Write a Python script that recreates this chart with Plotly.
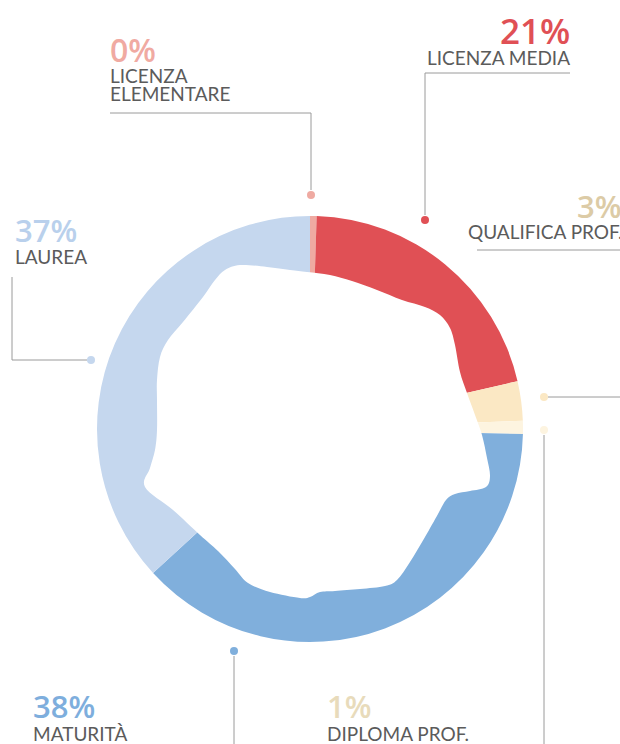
import plotly.graph_objects as go

# ---- data ----
categories = ["LICENZA ELEMENTARE", "LICENZA MEDIA", "QUALIFICA PROF.",
              "DIPLOMA PROF.", "MATURITÀ", "LAUREA"]
values = [0.5, 21, 3, 1, 38, 37]
pct_labels = ["0%", "21%", "3%", "1%", "38%", "37%"]
label_lines = [["LICENZA", "ELEMENTARE"], ["LICENZA MEDIA"], ["QUALIFICA PROF."],
               ["DIPLOMA PROF."], ["MATURITÀ"], ["LAUREA"]]
slice_colors = ["#efaaa2", "#e05055", "#fbe8c4", "#fdf4e0", "#80afdc", "#c5d7ee"]
pct_colors = ["#f0aaa2", "#e05055", "#dccba6", "#e8dbbb", "#7eaedd", "#b9d0ec"]

W, H = 620, 744
CX, CY, R = 310, 429, 213  # window pixels


def px(x):
    return x / W


def py(y):
    return 1 - y / H


fig = go.Figure()
fig.add_trace(go.Pie(
    labels=categories, values=values, sort=False, direction="clockwise",
    rotation=0, hole=0.5, textinfo="none", hoverinfo="label+percent",
    marker=dict(colors=slice_colors, line=dict(width=0)),
    domain=dict(x=[px(CX - R), px(CX + R)], y=[py(CY + R), py(CY - R)]),
    showlegend=False,
))

# ---- decorative wavy inner hole (white shape) ----
inner_outline = [(307, 272), (330, 275), (352, 281), (377, 290), (402, 300), (425, 307),
                 (440, 315), (450, 328), (455, 345), (460, 372), (467, 393), (475, 415),
                 (482, 435), (487, 458), (490, 476), (486, 487), (470, 491), (455, 494),
                 (446, 500), (438, 514), (425, 537), (410, 562), (397, 580), (385, 586),
                 (360, 589), (335, 591), (320, 592), (310, 597), (300, 598), (270, 592),
                 (248, 583), (235, 569), (218, 551), (200, 535), (173, 510), (145, 487),
                 (150, 468), (155, 450), (157, 430), (157, 400), (157, 380), (160, 357),
                 (168, 340), (183, 322), (203, 297), (215, 280), (225, 270), (240, 265),
                 (267, 267), (290, 270)]


def smooth_path(pts):
    n = len(pts)
    p = [(px(x), py(y)) for x, y in pts]
    d = f"M {p[0][0]},{p[0][1]} "
    for i in range(n):
        p0 = p[(i - 1) % n]
        p1 = p[i]
        p2 = p[(i + 1) % n]
        p3 = p[(i + 2) % n]
        c1 = (p1[0] + (p2[0] - p0[0]) / 6, p1[1] + (p2[1] - p0[1]) / 6)
        c2 = (p2[0] - (p3[0] - p1[0]) / 6, p2[1] - (p3[1] - p1[1]) / 6)
        d += f"C {c1[0]},{c1[1]} {c2[0]},{c2[1]} {p2[0]},{p2[1]} "
    return d + "Z"


shapes = [dict(type="path", xref="paper", yref="paper", path=smooth_path(inner_outline),
               fillcolor="white", line=dict(width=0), layer="above")]

LINE = dict(color="#9a9a9a", width=1)
# leader lines (polyline points in window pixels)
leaders = [
    [(311, 190), (311, 113), (110, 113)],
    [(425, 215), (425, 73), (570, 73)],
    [(548, 397), (620, 397)],
    [(477, 250), (620, 250)],
    [(544, 435), (544, 744)],
    [(234, 656), (234, 744)],
    [(87, 360), (12, 360), (12, 277)],
]
for pl in leaders:
    for (x0, y0), (x1, y1) in zip(pl[:-1], pl[1:]):
        shapes.append(dict(type="line", xref="paper", yref="paper",
                           x0=px(x0), y0=py(y0), x1=px(x1), y1=py(y1), line=LINE,
                           layer="below"))

dots = [(311, 195, 0), (425, 220, 1), (544, 397, 2), (544, 430, 3), (234, 651, 4), (91, 360, 5)]
for x, y, i in dots:
    r = 4
    shapes.append(dict(type="circle", xref="paper", yref="paper",
                       x0=px(x - r), x1=px(x + r), y0=py(y + r), y1=py(y - r),
                       fillcolor=slice_colors[i], line=dict(width=0)))

# text positions: (x, anchor, pct_y, label_y_first, pct size)
text_pos = [
    (108, "left", 49, 75, 32),
    (572, "right", 31, 57, 35),
    (624, "right", 206, 232, 31),
    (325, "left", 706, 733, 31),
    (31, "left", 706, 733, 31),
    (13, "left", 230, 256, 31),
]
NUM_FONT = "Open Sans"
LBL_FONT = "Lato"
annotations = []
for i, (x, anc, yp, yl, fs) in enumerate(text_pos):
    annotations.append(dict(x=px(x), y=py(yp), xref="paper", yref="paper",
                            text=pct_labels[i], showarrow=False, xanchor=anc,
                            yanchor="middle",
                            font=dict(family=NUM_FONT, size=fs, color=pct_colors[i], weight=600)))
    for j, line in enumerate(label_lines[i]):
        annotations.append(dict(x=px(x), y=py(yl + 18 * j), xref="paper", yref="paper",
                                text=line, showarrow=False, xanchor=anc, yanchor="middle",
                                font=dict(family=LBL_FONT, size=19, color="#5b5b5b")))

fig.update_layout(width=W, height=H, margin=dict(l=0, r=0, t=0, b=0),
                  paper_bgcolor="white", plot_bgcolor="white",
                  shapes=shapes, annotations=annotations)
fig.write_html("out.html", config={"displayModeBar": False},
               post_script="document.body.style.margin='0';"
                           "document.body.style.overflow='hidden';")
